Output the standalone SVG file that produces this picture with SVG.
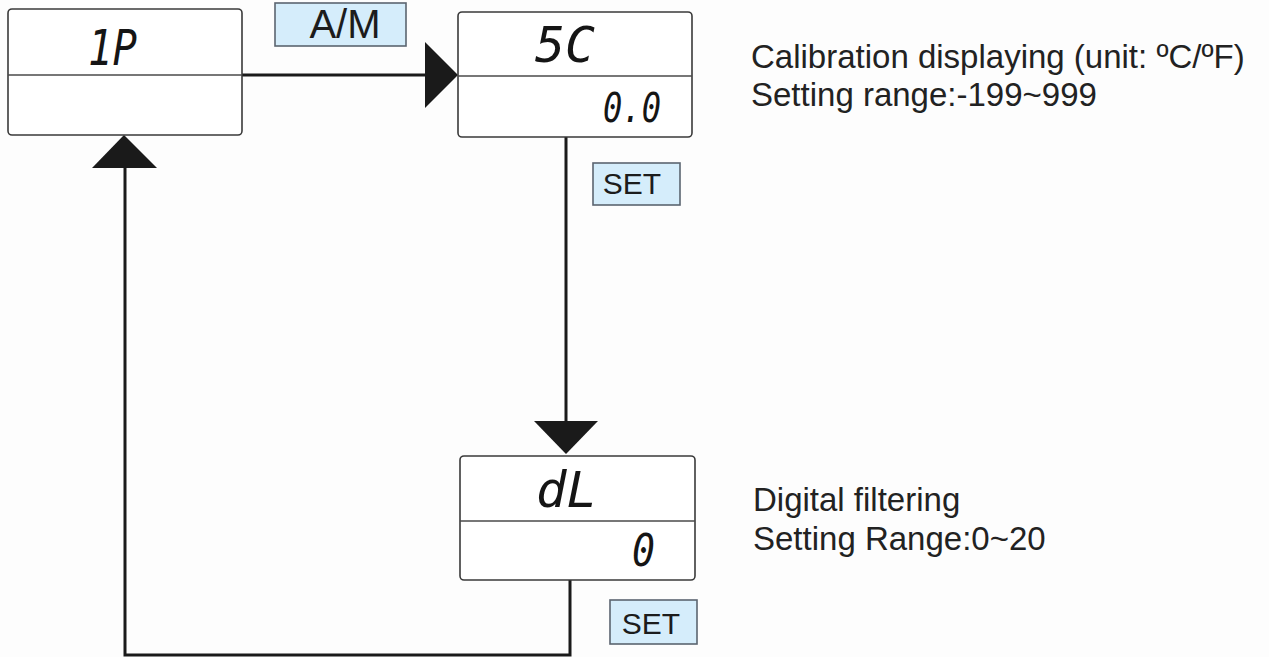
<svg xmlns="http://www.w3.org/2000/svg" width="1269" height="657" viewBox="0 0 1269 657">
  <style>
    .panel { fill: #ffffff; stroke: #3a3a3a; stroke-width: 1.6; }
    .divider { stroke: #4a4a4a; stroke-width: 1.6; }
    .seg { font-family: "DejaVu Sans Mono", monospace; font-style: oblique; fill: #151515; }
    .key { fill: #d5edfb; stroke: #5b6470; stroke-width: 1.6; }
    .keytext { font-family: "Liberation Sans", Arial, sans-serif; fill: #1c1c1c; text-anchor: middle; }
    .note { font-family: "Liberation Sans", Arial, sans-serif; font-size: 33px; fill: #222222; }
    .wire { fill: none; stroke: #1a1a1a; stroke-width: 3; }
    .head { fill: #1a1a1a; }
  </style>
  <rect width="1269" height="657" fill="#fdfdfd"/>

  <!-- connectors -->
  <g id="connectors">
    <path class="wire" d="M242 75 H426"/>
    <polygon class="head" points="425,42 458,75 425,108"/>
    <path class="wire" d="M566 137 V422"/>
    <polygon class="head" points="534,421 598,421 566,454"/>
    <path class="wire" d="M570 580 V655 H125 V167"/>
    <polygon class="head" points="92,168 157,168 124,135"/>
  </g>

  <!-- key labels -->
  <g id="key-am">
    <rect class="key" x="275" y="3" width="131" height="43"/>
    <text class="keytext" x="345" y="38" font-size="40">A/M</text>
  </g>
  <g id="key-set1">
    <rect class="key" x="593" y="163" width="87" height="42"/>
    <text class="keytext" x="632" y="194" font-size="30">SET</text>
  </g>
  <g id="key-set2">
    <rect class="key" x="610" y="600" width="87" height="44"/>
    <text class="keytext" x="651" y="634" font-size="30">SET</text>
  </g>

  <!-- display panels -->
  <g id="node-1p">
    <rect class="panel" x="8" y="9" width="234" height="126" rx="4"/>
    <line class="divider" x1="8" y1="75" x2="242" y2="75"/>
    <text class="seg" x="88" y="65" font-size="50" textLength="49" lengthAdjust="spacingAndGlyphs">1P</text>
  </g>

  <g id="node-sc">
    <rect class="panel" x="458" y="12" width="234" height="125" rx="4"/>
    <line class="divider" x1="458" y1="76" x2="692" y2="76"/>
    <text class="seg" x="535" y="62" font-size="50" textLength="60" lengthAdjust="spacingAndGlyphs">5C</text>
    <text class="seg" x="603" y="122" font-size="41" textLength="58" lengthAdjust="spacingAndGlyphs">0.0</text>
  </g>

  <g id="node-dl">
    <rect class="panel" x="460" y="456" width="235" height="124" rx="4"/>
    <line class="divider" x1="460" y1="521" x2="695" y2="521"/>
    <text class="seg" x="536" y="507" font-size="50" textLength="61" lengthAdjust="spacingAndGlyphs">dL</text>
    <text class="seg" x="632" y="566" font-size="44" textLength="23" lengthAdjust="spacingAndGlyphs">0</text>
  </g>

  <!-- descriptions -->
  <g id="note-sc">
    <text class="note" x="751" y="68">Calibration displaying (unit: ºC/ºF)</text>
    <text class="note" x="751" y="106">Setting range:-199~999</text>
  </g>
  <g id="note-dl">
    <text class="note" x="753" y="511">Digital filtering</text>
    <text class="note" x="753" y="550">Setting Range:0~20</text>
  </g>
</svg>
